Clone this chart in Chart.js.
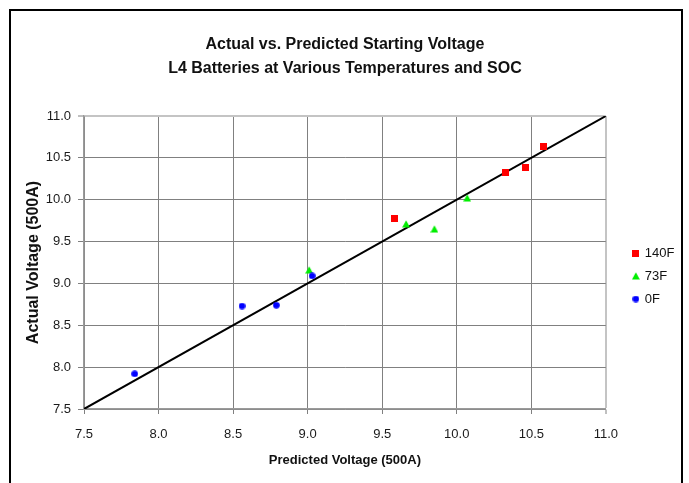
<!DOCTYPE html>
<html>
<head>
<meta charset="utf-8">
<script src="https://cdn.jsdelivr.net/npm/chart.js@4.4.1/dist/chart.umd.min.js"></script>
<style>
  html, body { margin: 0; padding: 0; background: #ffffff; }
  #wrap { width: 689px; height: 483px; position: relative; }
  canvas { display: block; }
</style>
</head>
<body>
<div id="wrap"><canvas id="c" width="689" height="483"></canvas></div>
<script>
// ---- data ----
const seriesNames = ['140F', '73F', '0F'];
const predicted140F = [9.58, 10.33, 10.46, 10.58];
const actual140F    = [9.77, 10.32, 10.39, 10.64];
const predicted73F  = [9.01, 9.66, 9.85, 10.07];
const actual73F     = [9.16, 9.71, 9.65, 10.02];
const predicted0F   = [7.84, 8.56, 8.79, 9.03];
const actual0F      = [7.92, 8.73, 8.74, 9.09];
const lineEndsX     = [7.5, 11.0];   // 1:1 reference line
const lineEndsY     = [7.5, 11.0];
const xTickLabels = ['7.5', '8.0', '8.5', '9.0', '9.5', '10.0', '10.5', '11.0'];
const yTickLabels = ['7.5', '8.0', '8.5', '9.0', '9.5', '10.0', '10.5', '11.0'];
const titleLines = ['Actual vs. Predicted Starting Voltage', 'L4 Batteries at Various Temperatures and SOC'];
const xTitle = 'Predicted Voltage (500A)';
const yTitle = 'Actual Voltage (500A)';

// ---- helpers ----
function pts(xs, ys) { return xs.map((x, i) => ({ x: x, y: ys[i] })); }

function marker(shape, color) {
  const c = document.createElement('canvas');
  const s = shape === 'triangle' ? 8 : 7;
  c.width = s; c.height = s;
  const g = c.getContext('2d');
  g.fillStyle = color;
  g.beginPath();
  if (shape === 'rect') {
    g.rect(0, 0, 7, 7);
  } else if (shape === 'triangle') {
    g.moveTo(4, 0.3); g.lineTo(7.9, 7.6); g.lineTo(0.1, 7.6); g.closePath();
  } else {
    g.arc(3.5, 3.5, 3.3, 0, Math.PI * 2);
  }
  g.fill();
  return c;
}

const FONT = "'Liberation Sans', Arial, Helvetica, sans-serif";

const framePlugin = {
  id: 'frame',
  beforeDraw(chart) {
    const ctx = chart.ctx;
    ctx.save();
    ctx.fillStyle = '#ffffff';
    ctx.fillRect(0, 0, chart.width, chart.height);
    ctx.strokeStyle = '#000000';
    ctx.lineWidth = 2;
    ctx.beginPath();
    ctx.moveTo(10, 483);
    ctx.lineTo(10, 10);
    ctx.lineTo(682, 10);
    ctx.lineTo(682, 483);
    ctx.stroke();
    ctx.restore();
  }
};

const legendShift = {
  id: 'legendShift',
  afterLayout(chart) {
    const lg = chart.legend;
    if (!lg) return;
    lg.left += 17.5; lg.right += 17.5;
    lg.top += 43; lg.bottom += 16;
  }
};

const edgeColor = (ctx) => (ctx.tick && ctx.tick.value === 11 ? '#c4c4c4' : '#808080');
const edgeWidth = (ctx) => (ctx.tick && ctx.tick.value === 11 ? 2 : 1);

new Chart(document.getElementById('c'), {
  type: 'scatter',
  data: {
    datasets: [
      {
        label: seriesNames[0],
        data: pts(predicted140F, actual140F),
        pointStyle: marker('rect', '#ff0000'),
        pointRadius: 4,
        backgroundColor: '#ff0000',
        borderColor: '#ff0000',
        order: 3
      },
      {
        label: seriesNames[1],
        data: pts(predicted73F, actual73F),
        pointStyle: marker('triangle', '#00ee00'),
        pointRadius: 4,
        backgroundColor: '#00ee00',
        borderColor: '#00ee00',
        order: 2
      },
      {
        label: seriesNames[2],
        data: pts(predicted0F, actual0F),
        pointStyle: marker('circle', '#0000ff'),
        pointRadius: 4,
        backgroundColor: '#0000ff',
        borderColor: '#0000ff',
        order: 1
      },
      {
        type: 'line',
        label: 'fit',
        data: pts(lineEndsX, lineEndsY),
        borderColor: '#000000',
        borderWidth: 2,
        pointRadius: 0,
        fill: false,
        order: 4
      }
    ]
  },
  options: {
    responsive: false,
    animation: false,
    devicePixelRatio: 1,
    events: [],
    layout: { padding: { top: 10, left: 10, right: 22, bottom: 0 } },
    plugins: {
      tooltip: { enabled: false },
      title: {
        display: true,
        fullSize: false,
        text: titleLines,
        color: '#111111',
        font: { family: FONT, size: 16, weight: 'bold', lineHeight: 1.5 },
        padding: { top: 23, bottom: 35 }
      },
      legend: {
        display: true,
        position: 'right',
        align: 'center',
        labels: {
          usePointStyle: true,
          boxWidth: 5,
          boxHeight: 7,
          padding: 10,
          color: '#111111',
          font: { family: FONT, size: 13 },
          filter: (item) => item.datasetIndex < 3,
          sort: (a, b) => a.datasetIndex - b.datasetIndex
        }
      }
    },
    scales: {
      x: {
        type: 'linear',
        min: 7.5,
        max: 11.0,
        afterFit: (s) => { s.height = 74; },
        afterBuildTicks: (s) => { s.ticks = xTickLabels.map((t) => ({ value: parseFloat(t) })); },
        ticks: {
          callback: (v, i) => xTickLabels[i],
          color: '#1a1a1a',
          padding: 13,
          maxRotation: 0,
          autoSkip: false,
          font: { family: FONT, size: 13 }
        },
        grid: {
          color: edgeColor,
          lineWidth: edgeWidth,
          tickColor: '#808080',
          tickWidth: 1,
          tickLength: 5
        },
        border: { display: true, color: '#9a9a9a', width: 1.5 },
        title: {
          display: true,
          text: xTitle,
          color: '#111111',
          font: { family: FONT, size: 13, weight: 'bold' },
          padding: { top: 0, bottom: 15 }
        }
      },
      y: {
        type: 'linear',
        min: 7.5,
        max: 11.0,
        afterFit: (s) => { s.width = 74; },
        afterBuildTicks: (s) => { s.ticks = yTickLabels.map((t) => ({ value: parseFloat(t) })); },
        ticks: {
          callback: (v, i) => yTickLabels[i],
          color: '#1a1a1a',
          padding: 7,
          autoSkip: false,
          font: { family: FONT, size: 13 }
        },
        grid: {
          color: edgeColor,
          lineWidth: edgeWidth,
          tickColor: '#808080',
          tickWidth: 1,
          tickLength: 6
        },
        border: { display: true, color: '#9a9a9a', width: 1.5 },
        title: {
          display: true,
          text: yTitle,
          color: '#111111',
          font: { family: FONT, size: 16, weight: 'bold' },
          padding: { top: 14, bottom: 0 }
        }
      }
    }
  },
  plugins: [framePlugin, legendShift]
});
</script>
</body>
</html>
